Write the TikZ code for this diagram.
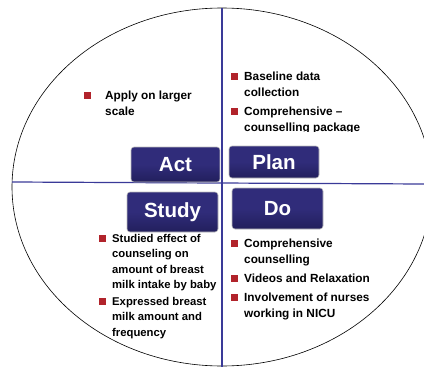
\documentclass[tikz,border=0pt]{standalone}
\usepackage{fontspec}
\setmainfont{Liberation Sans}
\usetikzlibrary{positioning}
\definecolor{navy}{HTML}{302C7A}
\definecolor{navydark}{HTML}{221F5C}
\definecolor{bltred}{HTML}{B1232B}
\definecolor{axisblue}{HTML}{3A3A98}

\begin{document}
\begin{tikzpicture}[x=1pt,y=-1pt,
 box/.style={top color=navy,bottom color=navydark,middle color=navy,draw=black!25,line width=.6pt,rounded corners=3pt,text=white,font=\fontsize{20.5}{24}\selectfont\bfseries,inner sep=0pt},
 blt/.style={fill=bltred,minimum size=7pt,inner sep=0pt},
 txt/.style={anchor=north west,inner sep=0pt,align=left,font=\fontsize{11.8}{15.5}\selectfont\bfseries},
 smalltxt/.style={txt,font=\fontsize{11.3}{15.5}\selectfont\bfseries},
 axisln/.style={axisblue,line width=1.2pt}]
\useasboundingbox (0,0) rectangle (424,367);
\draw[line width=.6pt] (222,187) ellipse[x radius=210,y radius=179];
\coordinate (l) at (12,182);\coordinate (r) at (424,184);
\coordinate (t) at (222,8);\coordinate (b) at (222,367);
\draw[axisln] (l)--(r);\draw[axisln] (t)--(b);
\node[box,minimum width=89pt,minimum height=35pt] (act) at (175.5,164.5){Act};
\node[box,minimum width=90pt,minimum height=32pt] (plan) at (274,162){Plan};
\node[box,minimum width=91pt,minimum height=40pt] (study) at (172.5,212){Study};
\node[box,minimum width=91pt,minimum height=41pt] (do) at (277.5,208.5){Do};
\node[blt] (a1) at (87,95){};\node[txt] (ta1) at (105,91){Apply on larger\\scale};
\node[blt] (p1) at (234,76){};\node[txt] (tp1) at (244,72){Baseline data\\collection};
\node[blt] (p2) at (234,111){};
\begin{scope}
\clip (230,60) rectangle (424,131);
\node[txt] (tp2) at (244,107){Comprehensive --\\counselling package};
\end{scope}
\node[blt] (s1) at (102,238){};\node[smalltxt] (ts1) at (112,234){Studied effect of\\counseling  on\\amount of breast\\milk intake by baby};
\node[blt] (s2) at (102,301){};\node[smalltxt] (ts2) at (112,297){Expressed breast\\milk amount and\\frequency};
\node[blt] (d1) at (234,243){};\node[txt] (td1) at (244,239){Comprehensive\\counselling};
\node[blt] (d2) at (234,278){};\node[txt] (td2) at (244,274){Videos and Relaxation};
\node[blt] (d3) at (234,297){};\node[txt] (td3) at (244,293){Involvement of  nurses\\working in NICU};
\end{tikzpicture}
\end{document}
